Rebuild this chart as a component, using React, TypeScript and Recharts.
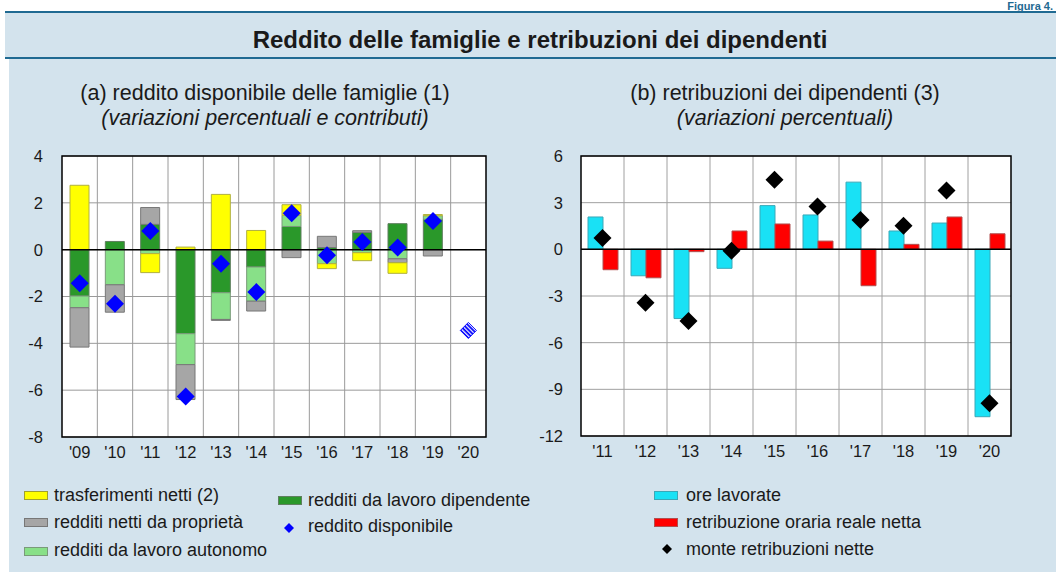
import React from "react";
import {
  ComposedChart,
  Bar,
  Line,
  XAxis,
  YAxis,
  CartesianGrid,
  ReferenceLine,
  ReferenceArea,
} from "recharts";

// (a) reddito disponibile delle famiglie
const anniA = ["'09", "'10", "'11", "'12", "'13", "'14", "'15", "'16", "'17", "'18", "'19", "'20"];
const lavoroDipendente = [-1.98, 0.35, 1.08, -3.59, -1.84, -0.74, 0.99, 0.09, 0.74, 1.11, 1.3, null];
const lavoroAutonomo = [-0.5, -1.5, -0.17, -1.32, -1.14, -1.46, 0.48, -0.6, -0.13, -0.39, 0.15, null];
const proprieta = [-1.68, -1.17, 0.72, -1.49, -0.04, -0.42, -0.34, 0.48, 0.07, -0.17, -0.27, null];
const trasferimenti = [2.75, null, -0.81, 0.11, 2.36, 0.82, 0.45, -0.21, -0.34, -0.45, 0.05, null];
const redditoDisponibile = [-1.43, -2.31, 0.8, -6.27, -0.6, -1.81, 1.56, -0.24, 0.33, 0.09, 1.22, null];
const redditoPrevisione = [null, null, null, null, null, null, null, null, null, null, null, -3.45];
const ticksA = [4, 2, 0, -2, -4, -6, -8];

// (b) retribuzioni dei dipendenti
const anniB = ["'11", "'12", "'13", "'14", "'15", "'16", "'17", "'18", "'19", "'20"];
const oreLavorate = [2.08, -1.7, -4.45, -1.22, 2.81, 2.21, 4.32, 1.18, 1.69, -10.76];
const retribuzioneOraria = [-1.31, -1.83, -0.15, 1.18, 1.63, 0.53, -2.34, 0.32, 2.08, 1.0];
const monteRetribuzioni = [0.73, -3.44, -4.6, -0.09, 4.47, 2.75, 1.89, 1.52, 3.78, -9.9];
const ticksB = [6, 3, 0, -3, -6, -9, -12];

const dataA = anniA.map((anno, i) => ({
  anno,
  dipendente: lavoroDipendente[i],
  autonomo: lavoroAutonomo[i],
  proprieta: proprieta[i],
  trasferimenti: trasferimenti[i],
  disponibile: redditoDisponibile[i],
  previsione: redditoPrevisione[i],
}));

const dataB = anniB.map((anno, i) => ({
  anno,
  ore: oreLavorate[i],
  retribuzione: retribuzioneOraria[i],
  monte: monteRetribuzioni[i],
}));

const FONT = '"Liberation Sans", Arial, sans-serif';
const TEXT = "#1a1a1a";
const BG = "#d3e3ed";
const LINE_BLUE = "#1f6a92";
const TICK_SIZE = 16.5;

const tickText = (shift: number, anchor: "start" | "end") => (props: any) => {
  const { x, y, payload } = props;
  return (
    <text x={x + shift} y={y} dy="0.355em" textAnchor={anchor} fontSize={TICK_SIZE} fill={TEXT} fontFamily={FONT}>
      {payload.value}
    </text>
  );
};

const diamond = (fill: string, r: number) => (props: any) => {
  const { cx, cy, index } = props;
  if (cx == null || cy == null || props.value == null) return <g key={"d" + index} />;
  return (
    <polygon
      key={"d" + index}
      points={`${cx},${cy - r} ${cx + r},${cy} ${cx},${cy + r} ${cx - r},${cy}`}
      fill={fill}
    />
  );
};

const hatchedDiamond = (props: any) => {
  const { cx, cy, index } = props;
  if (cx == null || cy == null || props.value == null) return <g key={"h" + index} />;
  const r = 8;
  return (
    <g key={"h" + index}>
      <defs>
        <pattern id="tratteggio" patternUnits="userSpaceOnUse" width="3" height="3" patternTransform="rotate(45)">
          <rect width="3" height="3" fill="#ffffff" />
          <rect width="3" height="1.8" fill="#0000ff" />
        </pattern>
      </defs>
      <polygon
        points={`${cx},${cy - r} ${cx + r},${cy} ${cx},${cy + r} ${cx - r},${cy}`}
        fill="url(#tratteggio)"
        stroke="#0000ff"
        strokeWidth={1}
      />
    </g>
  );
};

const columnLines = (n: number) => ({ offset }: any) =>
  Array.from({ length: n - 1 }, (_, i) => offset.left + ((i + 1) * offset.width) / n);

function ChartA() {
  return (
    <ComposedChart
      width={535}
      height={330}
      data={dataA}
      stackOffset="sign"
      margin={{ top: 16, right: 0, bottom: 0, left: 0 }}
    >
      <CartesianGrid
        yAxisId="left"
        fill="#ffffff"
        stroke="#9a9a9a"
        strokeWidth={1}
        verticalCoordinatesGenerator={columnLines(anniA.length)}
      />
      <XAxis dataKey="anno" height={33} tickSize={0} tickMargin={9} axisLine={false} tick={{ fill: TEXT, fontSize: TICK_SIZE, fontFamily: FONT }} />
      <YAxis yAxisId="left" domain={[-8, 4]} ticks={ticksA} width={62} tickSize={0} axisLine={false} tick={tickText(-17, "end")} />
      <YAxis yAxisId="right" orientation="right" domain={[-8, 4]} ticks={ticksA} width={49} tickSize={0} axisLine={false} tick={tickText(31, "end")} />
      <Bar yAxisId="left" dataKey="dipendente" stackId="a" barSize={19} fill="#2a982a" stroke="#5f7f5f" strokeWidth={1} isAnimationActive={false} />
      <Bar yAxisId="left" dataKey="autonomo" stackId="a" barSize={19} fill="#88e088" stroke="#7a9a7a" strokeWidth={1} isAnimationActive={false} />
      <Bar yAxisId="left" dataKey="proprieta" stackId="a" barSize={19} fill="#a6a6a6" stroke="#777777" strokeWidth={1} isAnimationActive={false} />
      <Bar yAxisId="left" dataKey="trasferimenti" stackId="a" barSize={19} fill="#ffff00" stroke="#b0b040" strokeWidth={1} isAnimationActive={false} />
      <ReferenceLine yAxisId="left" y={0} stroke="#000" strokeWidth={1.5} />
      <ReferenceArea yAxisId="left" y1={-8} y2={4} fill="none" stroke="#000" strokeWidth={1.5} />
      <Line yAxisId="left" dataKey="disponibile" stroke="none" dot={diamond("#0000ff", 9)} activeDot={false} isAnimationActive={false} />
      <Line yAxisId="left" dataKey="previsione" stroke="none" dot={hatchedDiamond} activeDot={false} isAnimationActive={false} />
    </ComposedChart>
  );
}

function ChartB() {
  return (
    <ComposedChart
      width={526}
      height={330}
      data={dataB}
      barGap={0}
      margin={{ top: 16, right: 0, bottom: 0, left: 0 }}
    >
      <CartesianGrid
        yAxisId="left"
        fill="#ffffff"
        stroke="#a0a0a0"
        strokeWidth={1}
        verticalCoordinatesGenerator={columnLines(anniB.length)}
      />
      <XAxis dataKey="anno" height={34} tickSize={0} tickMargin={9} axisLine={false} tick={{ fill: TEXT, fontSize: TICK_SIZE, fontFamily: FONT }} />
      <YAxis yAxisId="left" domain={[-12, 6]} ticks={ticksB} width={51} tickSize={0} axisLine={false} tick={tickText(-16, "end")} />
      <YAxis yAxisId="right" orientation="right" domain={[-12, 6]} ticks={ticksB} width={45} tickSize={0} axisLine={false} tick={tickText(42, "end")} />
      <Bar yAxisId="left" dataKey="ore" barSize={15} fill="#19e1f5" stroke="#3aa8b8" strokeWidth={1} isAnimationActive={false} />
      <Bar yAxisId="left" dataKey="retribuzione" barSize={15} fill="#ff0000" stroke="#b05050" strokeWidth={1} isAnimationActive={false} />
      <ReferenceLine yAxisId="left" y={0} stroke="#000" strokeWidth={1.5} />
      <ReferenceArea yAxisId="left" y1={-12} y2={6} fill="none" stroke="#000" strokeWidth={1.5} />
      <Line yAxisId="left" dataKey="monte" stroke="none" dot={diamond("#000000", 9)} activeDot={false} isAnimationActive={false} />
    </ComposedChart>
  );
}

const abs = (s: React.CSSProperties): React.CSSProperties => ({ position: "absolute", ...s });

function Swatch({ x, y, color, border }: { x: number; y: number; color: string; border: string }) {
  return <div style={abs({ left: x, top: y - 4, width: 22, height: 7, background: color, border: `1px solid ${border}` })} />;
}

function Label({ x, y, text }: { x: number; y: number; text: string }) {
  return (
    <div style={abs({ left: x, top: y - 12, height: 24, lineHeight: "24px", fontSize: 18, color: TEXT, whiteSpace: "nowrap" })}>
      {text}
    </div>
  );
}

function Diamond({ x, y, color }: { x: number; y: number; color: string }) {
  return (
    <svg style={abs({ left: x - 5, top: y - 5 })} width={10} height={10}>
      <polygon points="5,0 10,5 5,10 0,5" fill={color} />
    </svg>
  );
}

export default function App() {
  return (
    <div style={abs({ left: 0, top: 0, width: 1056, height: 572, overflow: "hidden", background: "#ffffff", fontFamily: FONT })}>
      <div style={abs({ left: 5, top: 13, width: 1051, height: 559, background: BG })} />
      <div style={abs({ left: 5, top: 11, width: 1051, height: 2, background: LINE_BLUE })} />
      <div style={abs({ left: 5, top: 57, width: 1051, height: 2, background: LINE_BLUE })} />
      <div style={abs({ left: 0, top: 59, width: 9, height: 513, background: "#ffffff" })} />
      <div style={abs({ right: 3, top: 1, fontSize: 11, lineHeight: "11px", fontWeight: "bold", color: LINE_BLUE, whiteSpace: "nowrap" })}>
        Figura 4.
      </div>
      <div style={abs({ left: 0, top: 26, width: 1080, textAlign: "center", fontSize: 24, fontWeight: "bold", lineHeight: "28px", color: TEXT })}>
        Reddito delle famiglie e retribuzioni dei dipendenti
      </div>

      <div style={abs({ left: 0, top: 80, width: 530, textAlign: "center", fontSize: 21.5, lineHeight: "26px", color: TEXT })}>
        (a) reddito disponibile delle famiglie (1)
      </div>
      <div style={abs({ left: 0, top: 105, width: 530, textAlign: "center", fontSize: 21.5, lineHeight: "26px", fontStyle: "italic", color: TEXT })}>
        (variazioni percentuali e contributi)
      </div>
      <div style={abs({ left: 530, top: 80, width: 510, textAlign: "center", fontSize: 21.5, lineHeight: "26px", color: TEXT })}>
        (b) retribuzioni dei dipendenti (3)
      </div>
      <div style={abs({ left: 530, top: 105, width: 510, textAlign: "center", fontSize: 21.5, lineHeight: "26px", fontStyle: "italic", color: TEXT })}>
        (variazioni percentuali)
      </div>

      <div style={abs({ left: 0, top: 140 })}>
        <ChartA />
      </div>
      <div style={abs({ left: 530, top: 140 })}>
        <ChartB />
      </div>

      <Swatch x={24} y={495} color="#ffff00" border="#a0a030" />
      <Label x={54} y={495} text="trasferimenti netti (2)" />
      <Swatch x={24} y={522} color="#a6a6a6" border="#777777" />
      <Label x={54} y={522} text="redditi netti da proprietà" />
      <Swatch x={24} y={551} color="#88e088" border="#7a9a7a" />
      <Label x={54} y={550} text="redditi da lavoro autonomo" />
      <Swatch x={278} y={500} color="#2a982a" border="#5f7f5f" />
      <Label x={308} y={500} text="redditi da lavoro dipendente" />
      <Diamond x={289} y={528} color="#0000ff" />
      <Label x={308} y={526} text="reddito disponibile" />

      <Swatch x={654} y={495} color="#19e1f5" border="#3aa8b8" />
      <Label x={686} y={495} text="ore lavorate" />
      <Swatch x={654} y={522} color="#ff0000" border="#b05050" />
      <Label x={686} y={522} text="retribuzione oraria reale netta" />
      <Diamond x={667} y={549} color="#000000" />
      <Label x={686} y={549} text="monte retribuzioni nette" />
    </div>
  );
}
